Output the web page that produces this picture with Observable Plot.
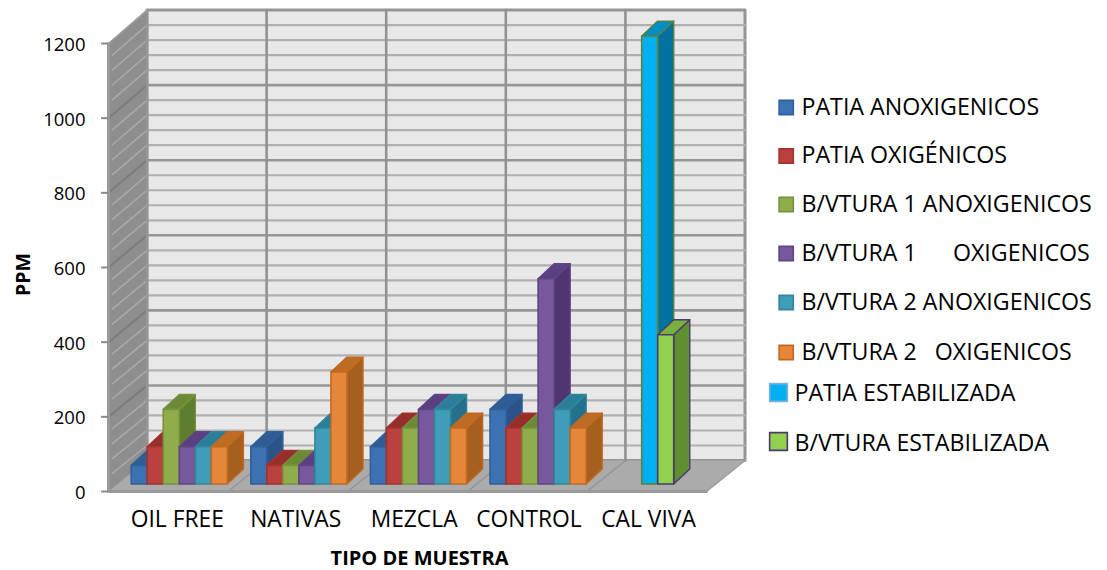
<!DOCTYPE html>
<html><head><meta charset="utf-8">
<style>html,body{margin:0;padding:0;background:#fff}</style>
<script src="https://cdn.jsdelivr.net/npm/d3@7"></script>
<script src="https://cdn.jsdelivr.net/npm/@observablehq/plot@0.6"></script>
</head><body><div id="chart"></div>
<script>
const categories = ["OIL FREE","NATIVAS","MEZCLA","CONTROL","CAL VIVA"];
const seriesNames = ["PATIA ANOXIGENICOS","PATIA OXIGÉNICOS","B/VTURA 1 ANOXIGENICOS","B/VTURA 1      OXIGENICOS","B/VTURA 2 ANOXIGENICOS","B/VTURA 2   OXIGENICOS","PATIA ESTABILIZADA","B/VTURA ESTABILIZADA"];
const patiaAnox   = [50,100,100,200,null];
const patiaOxi    = [100,50,150,150,null];
const bv1Anox     = [200,50,150,150,null];
const bv1Oxi      = [100,50,200,550,null];
const bv2Anox     = [100,150,200,200,null];
const bv2Oxi      = [100,300,150,150,null];
const patiaEstab  = [null,null,null,null,1200];
const bvEstab     = [null,null,null,null,400];
const seriesValues = [patiaAnox,patiaOxi,bv1Anox,bv1Oxi,bv2Anox,bv2Oxi,patiaEstab,bvEstab];
const yTicks = [0,200,400,600,800,1000,1200];
const xLabelTicks = [0.5,1.49,2.48,3.44,4.44];
const front  = ["#3d72b2","#b9423f","#8fae4b","#77589c","#3f9dba","#e5873a","#00b0f0","#92d050"];
const top3d  = ["#2f5c92","#962f2c","#6c8a35","#5c3f80","#2b7e98","#bd6c26","#008fc4","#78b13e"];
const side3d = ["#2a5488","#8a2b28","#5f7d2e","#4f3570","#25708a","#a5601f","#0072a2","#5e8f30"];
const edge   = ["#2f5f9c","#a5322f","#76923c","#5f4585","#31859c","#c5681e","#5f8038","#4b3a6b"];
// Slot inside a category: the last two series sit in the third and fourth slots of their group.
const slot = [0,1,2,3,4,5,2,3];

const DX = 0.322, BX = 0.134, BDX = 0.134, BDY = 40, LIFT = 20, START = 0.19;
const P = (c, v, d) => ({x: c + d * DX, y: v + d * (83 + 6.5 * v / 1200)});
let pid = 0;
const poly = (pts, fill, stroke, sw) => {
  const id = pid++;
  return [...pts, pts[0]].map(p => ({...p, id, fill, stroke, sw}));
};
const line = (pts, stroke, sw) => {
  const id = pid++;
  return pts.map(p => ({...p, id, fill: "none", stroke, sw}));
};

const wall = [
  poly([P(0,0,1),P(5,0,1),P(5,1200,1),P(0,1200,1)], "#e8e8e8", "#959595", 3),
  poly([P(0,0,0),P(0,0,1),P(0,1200,1),P(0,1200,0)], "#8e8e8e", "#8e8e8e", 1),
  poly([P(0,0,0),P(5,0,0),P(5,0,1),P(0,0,1)], "#ababab", "#a0a0a0", 1)
];
const minors = d3.range(40,1200,40).filter(v => v % 200 !== 0);
const grid = [];
for (const v of minors) {
  grid.push(line([P(0,v,1),P(5,v,1)], "#b0b0b0", 2.2));
  grid.push(line([P(0,v,1),P(0,v,0.1)], "#a9a9a9", 1.6));
}
for (const v of yTicks.slice(1,-1)) {
  grid.push(line([P(0,v,1),P(5,v,1)], "#969696", 2.6));
  grid.push(line([P(0,v,1),P(0,v,0)], "#7c7c7c", 2));
}
for (let c = 1; c < 5; c++) {
  grid.push(line([P(c,0,1),P(c,1200,1)], "#929292", 2.6));
  grid.push(line([P(c,0,0),P(c,0,1)], "#969696", 1.6));
}
const outline = [
  line([P(0,0,1),P(0,1200,1)], "#959595", 2.5),
  line([P(0,1200,0),P(0,0,0),P(5,0,0)], "#9a9a9a", 3),
  line([P(0,1200,0),P(0,1200,1)], "#a0a0a0", 1.5),
  line([P(5,0,0),P(5,0,1)], "#a0a0a0", 1.5)
];

// Painter's order: each bar's depth faces are covered by the next bar's front.
const barFaces = [];
categories.forEach((_, c) => {
  seriesValues.forEach((vals, s) => {
    const v = vals[c];
    if (v == null) return;
    const x0 = c + START + slot[s] * BX, x1 = x0 + BX;
    const y0 = LIFT, y1 = v + LIFT;
    barFaces.push(poly([{x:x1,y:y0},{x:x1+BDX,y:y0+BDY},{x:x1+BDX,y:y1+BDY},{x:x1,y:y1}], side3d[s], edge[s], 1.4));
    barFaces.push(poly([{x:x0,y:y1},{x:x1,y:y1},{x:x1+BDX,y:y1+BDY},{x:x0+BDX,y:y1+BDY}], top3d[s], edge[s], 1.4));
    barFaces.push(poly([{x:x0,y:y0},{x:x1,y:y0},{x:x1,y:y1},{x:x0,y:y1}], front[s], edge[s], 1.6));
  });
});

const faces = d3.merge([...wall, ...grid, ...outline, ...barFaces]);
const FONT = "'Open Sans', sans-serif";
const OX = 108, OY = 43; // frame origin

const legendRows = [
  {tx:801,sx:785.7,y:107,ty:107,r:8},{tx:801,sx:785.7,y:155.5,ty:155.5,r:8},{tx:801,sx:785.7,y:204,ty:204,r:8},{tx:801,sx:785.7,y:253,ty:253,r:8},
  {tx:801,sx:785.7,y:302,ty:302,r:8},{tx:801,sx:785.7,y:352,ty:352,r:8},{tx:794,sx:778,y:392,ty:393,r:10},{tx:794,sx:778,y:441,ty:443,r:10}
];
const legendMarks = legendRows.flatMap((row, i) => [
  Plot.dot([seriesNames[i]], {frameAnchor:"top-left", dx:row.sx-OX, dy:row.y-OY, r:row.r, symbol:"square", fill:front[i], stroke:i===6?"#7fb0e0":edge[i], strokeWidth:1.6}),
  Plot.text([seriesNames[i]], {frameAnchor:"top-left", text:d=>d, dx:row.tx-OX, dy:row.ty-OY, textAnchor:"start", lineAnchor:"middle", fontSize:23.2, fill:"#000"})
]);

const chart = Plot.plot({
  width:1107, height:570,
  marginLeft:108, marginRight:401, marginTop:43, marginBottom:79,
  style:{fontFamily:FONT, background:"#fff", color:"#000"},
  x:{domain:[0,5]},
  y:{domain:[0,1200]},
  marks:[
    Plot.line(faces, {x:"x", y:"y", z:"id", fill:"fill", stroke:"stroke", strokeWidth:"sw", curve:"linear", strokeLinejoin:"round"}),
    Plot.ruleY(yTicks, {x1:-0.0585, x2:0, stroke:"#8a8a8a", strokeWidth:2}),
    Plot.axisY({ticks:yTicks, tickSize:0, tickPadding:23, dy:1.5, fontSize:18.5, label:null, tickFormat:d=>String(d), color:"#000"}),
    Plot.axisX({ticks:xLabelTicks, tickSize:0, tickPadding:19, fontSize:22.8, label:null, dx:9, tickFormat:d=>categories[Math.floor(d)]}),
    Plot.text(["PPM"], {frameAnchor:"top-left", text:d=>d, dx:23-OX, dy:274-OY, rotate:-90, textAnchor:"middle", lineAnchor:"middle", fontSize:19.5, fontWeight:"bold", fill:"#000"}),
    Plot.text(["TIPO DE MUESTRA"], {frameAnchor:"top-left", text:d=>d, dx:419-OX, dy:558-OY, textAnchor:"middle", lineAnchor:"middle", fontSize:20, fontWeight:"bold", fill:"#000"}),
    ...legendMarks
  ]
});
document.getElementById("chart").append(chart);
</script></body></html>
